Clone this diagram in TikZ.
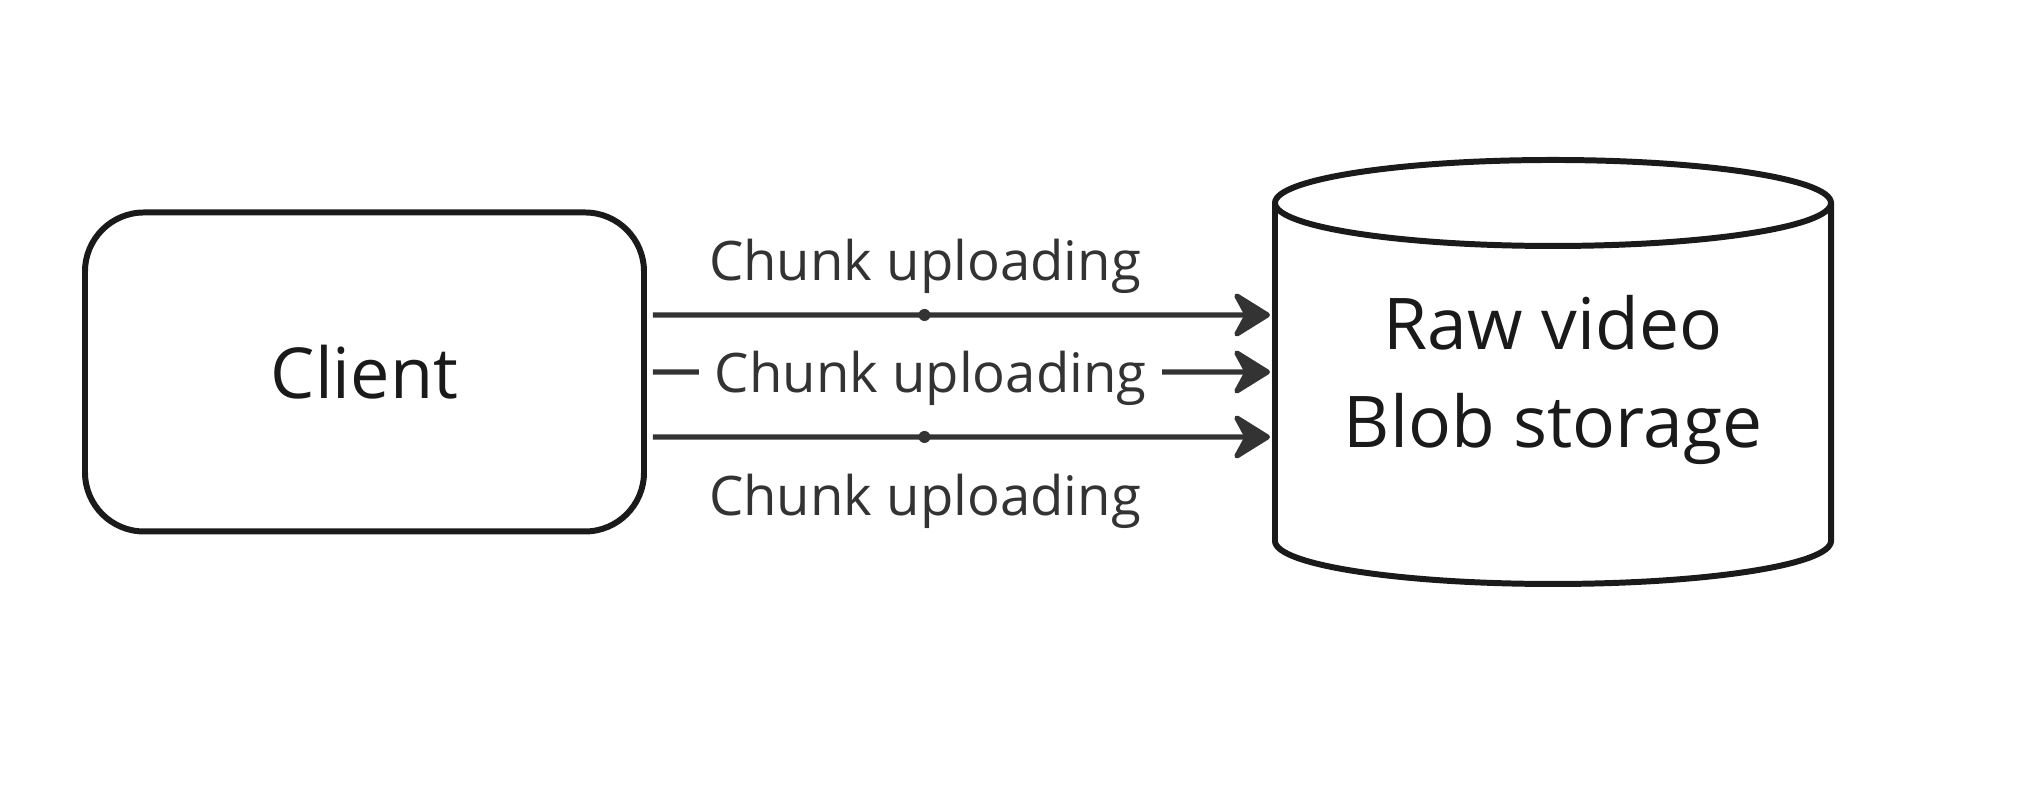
\documentclass[tikz,border=0pt]{standalone}
\usepackage{fontspec}
\setmainfont{Open Sans}
\usetikzlibrary{positioning,arrows.meta,shapes.geometric}
\definecolor{inkdark}{HTML}{1A1A1A}
\definecolor{linkgray}{HTML}{333333}

\begin{document}
\begin{tikzpicture}[
  client/.style={rectangle, rounded corners=0.59cm, draw=inkdark, line width=1.7pt, minimum width=5.59cm, minimum height=3.19cm, font=\fontsize{20}{24}\selectfont, text=inkdark},
  store/.style={rectangle, outer sep=0pt, minimum width=5.56cm, minimum height=3.38cm, align=center, font=\fontsize{20.3}{28}\selectfont, text=inkdark},
  cyl/.style={draw=inkdark, line width=1.7pt},
  upload/.style={-{Stealth[length=0.42cm, width=0.52cm, inset=0.14cm, round]}, line width=1.45pt, linkgray},
  handle/.style={circle, fill=linkgray, inner sep=0pt, minimum size=0.12cm},
  chunk/.style={font=\fontsize{15.5}{18}\selectfont, text=linkgray},
]
  \useasboundingbox (0,0) rectangle (20.4,7.98);

  \node[client] (client) at (3.645,4.26) {Client};
  \node[store]  (blob)   at (15.53,4.18) {Raw video\\Blob storage};

  % cylinder drawn round the storage node
  \draw[cyl] ([yshift=0.08cm]blob.north) ellipse [x radius=2.78cm, y radius=0.43cm];
  \draw[cyl] ([yshift=0.08cm]blob.north west) -- ([yshift=0.08cm]blob.south west)
    arc[start angle=180, end angle=360, x radius=2.78cm, y radius=0.43cm] -- ([yshift=0.08cm]blob.north east);

  % three parallel chunk uploads
  \draw[upload] ([xshift=0.06cm, yshift=0.57cm]client.east) -- node[pos=0.44, handle] (h1) {} ([xshift=-0.05cm, yshift=0.65cm]blob.west);
  \draw[upload] ([xshift=0.06cm]client.east) -- node[pos=0.45, chunk, fill=white, inner xsep=0.16cm, yshift=-0.06cm] (lblmid) {Chunk uploading} ([xshift=-0.05cm, yshift=0.08cm]blob.west);
  \draw[upload] ([xshift=0.06cm, yshift=-0.65cm]client.east) -- node[pos=0.44, handle] (h3) {} ([xshift=-0.05cm, yshift=-0.57cm]blob.west);

  \node[chunk] (lbltop) at (9.25,5.32) {Chunk uploading};
  \node[chunk] (lblbot) at (9.25,2.97) {Chunk uploading};
\end{tikzpicture}
\end{document}
